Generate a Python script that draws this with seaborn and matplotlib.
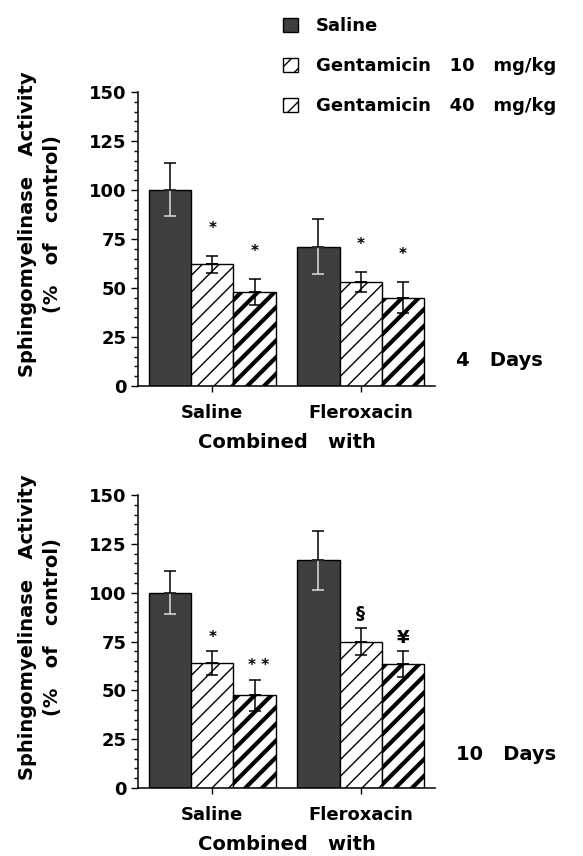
import numpy as np
import pandas as pd
import matplotlib
matplotlib.use("Agg")
import matplotlib.pyplot as plt
import seaborn as sns
from matplotlib.patches import Patch
from matplotlib.ticker import MultipleLocator

# combined-with groups on the x axis, treatments as hue
groups = ["Saline", "Fleroxacin"]
treatments = ["Saline", "Gentamicin   10   mg/kg", "Gentamicin   40   mg/kg"]

# sphingomyelinase activity (% of control), order = treatments
saline_4d = [100, 62, 48]
saline_4d_err = [13.5, 4.5, 6.5]
flerox_4d = [71, 53, 45]
flerox_4d_err = [14, 5, 8]

saline_10d = [100, 64, 47.5]
saline_10d_err = [11, 6, 8]
flerox_10d = [116.5, 75, 63.5]
flerox_10d_err = [15, 7, 6.5]

# significance marks above each bar
marks_4d = [["", "*", "*"], ["", "*", "*"]]
marks_10d = [["", "*", "* *"], ["", "§", "¥"]]

sns.set_style("white")
plt.rcParams["font.family"] = ["DejaVu Sans"]
plt.rcParams["font.weight"] = "bold"
for k in ["text.color", "axes.labelcolor", "xtick.color", "ytick.color", "axes.edgecolor"]:
    plt.rcParams[k] = "black"

face = ["#3f3f3f", "white", "white"]
hatches = [None, "//", "//"]
hatch_lw = [1.0, 1.0, 3.0]


def make_df(saline, flerox, saline_err, flerox_err):
    rows = []
    for g, vals, errs in [(groups[0], saline, saline_err), (groups[1], flerox, flerox_err)]:
        for t, v, e in zip(treatments, vals, errs):
            rows.append({"group": g, "treatment": t, "value": v, "err": e})
    return pd.DataFrame(rows)


def draw_panel(ax, df, marks, mark_off, days_label, days_y):
    sns.barplot(data=df, x="group", y="value", hue="treatment", order=groups,
                hue_order=treatments, palette=face, width=0.857, errorbar=None,
                edgecolor="black", linewidth=1.0, legend=False, ax=ax, saturation=1)
    bar_conts = list(ax.containers)
    for ti, cont in enumerate(bar_conts):
        for gi, bar in enumerate(cont):
            if hatches[ti]:
                bar.set_hatch(hatches[ti])
                if hasattr(bar, "set_hatch_linewidth"):
                    bar.set_hatch_linewidth(hatch_lw[ti])
            x = bar.get_x() + bar.get_width() / 2
            h = bar.get_height()
            e = df[(df.group == groups[gi]) & (df.treatment == treatments[ti])]["err"].iloc[0]
            low_col = "#dddddd" if ti == 0 else "black"
            ax.errorbar(x, h, yerr=[[e], [0]], color=low_col, capsize=4.5, lw=1.1,
                        capthick=1.1, zorder=5)
            ax.errorbar(x, h, yerr=[[0], [e]], color="black", capsize=4.5, lw=1.1,
                        capthick=1.1, zorder=5)
            m = marks[gi][ti]
            if m:
                ax.text(x + (4 if m == "* *" else 0) / 148, h + e + mark_off, m,
                        ha="center", va="center",
                        fontsize=13 if m in ("§", "¥") else 11, fontweight="bold")

    ax.set_ylim(0, 150)
    ax.set_xlim(-0.5, 1.5)
    ax.yaxis.set_major_locator(MultipleLocator(25))
    ax.yaxis.set_minor_locator(MultipleLocator(5))
    ax.tick_params(axis="y", which="major", direction="out", length=5, width=1,
                   left=True, labelsize=13, pad=3)
    ax.tick_params(axis="y", which="minor", direction="out", length=3, width=1, left=True)
    ax.tick_params(axis="x", direction="out", length=4, width=1, bottom=True,
                   labelsize=13, pad=9)
    for lab in ax.get_yticklabels() + ax.get_xticklabels():
        lab.set_fontweight("bold")
    sns.despine(ax=ax)
    for s in ["left", "bottom"]:
        ax.spines[s].set_color("black")
        ax.spines[s].set_linewidth(1.1)
    ax.set_xlabel("Combined   with", fontsize=14, fontweight="bold", labelpad=8)
    ax.set_ylabel("Sphingomyelinase   Activity\n(%   of   control)", fontsize=14,
                  fontweight="bold", linespacing=1.45)
    ax.yaxis.set_label_coords(-0.255, 0.55)
    ax.text(1.07, days_y, days_label, transform=ax.transAxes, ha="left",
            va="center", fontsize=14, fontweight="bold")


fig = plt.figure(figsize=(5.83, 8.56), dpi=100)
ax1 = fig.add_axes([0.2367, 0.5491, 0.5094, 0.3435])
ax2 = fig.add_axes([0.2367, 0.0794, 0.5094, 0.3423])

draw_panel(ax1, make_df(saline_4d, flerox_4d, saline_4d_err, flerox_4d_err),
           marks_4d, 14, "4   Days", 0.088)
draw_panel(ax2, make_df(saline_10d, flerox_10d, saline_10d_err, flerox_10d_err),
           marks_10d, 7, "10   Days", 0.113)

handles = []
for ti, t in enumerate(treatments):
    p = Patch(facecolor=face[ti], edgecolor="black", hatch=hatches[ti], lw=1, label=t)
    handles.append(p)
leg = fig.legend(handles=handles, loc="upper left", bbox_to_anchor=(0.458, 0.999),
                 frameon=False, prop={"size": 13, "weight": "bold"},
                 handlelength=0.8, handleheight=0.8, handletextpad=1.0,
                 labelspacing=1.22)

fig.savefig("out.png", dpi=100)
